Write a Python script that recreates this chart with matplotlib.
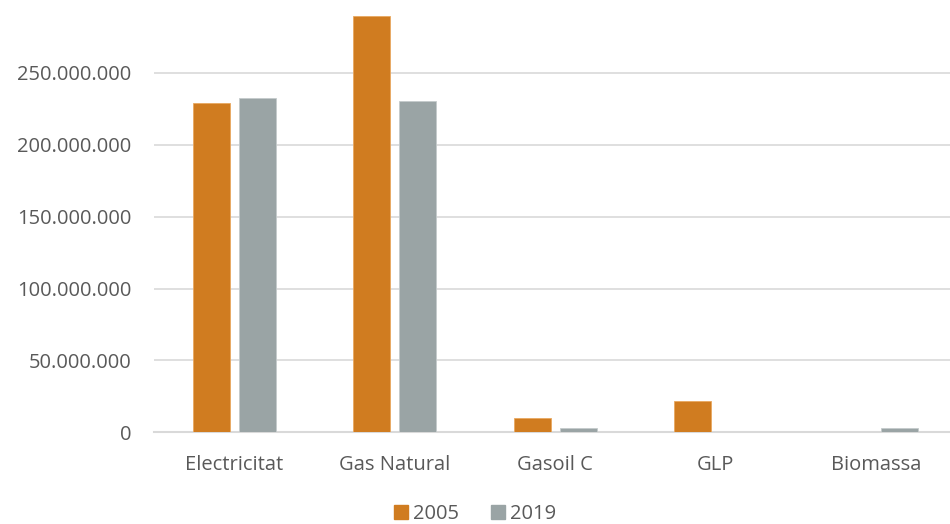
import numpy as np
import matplotlib.pyplot as plt
from matplotlib.ticker import FuncFormatter
from matplotlib.patches import Patch

categories = ["Electricitat", "Gas Natural", "Gasoil C", "GLP", "Biomassa"]
years = ["2005", "2019"]
vals_2005 = [228.9e6, 289.9e6, 10.2e6, 22.0e6, 0]
vals_2019 = [232.4e6, 230.7e6, 3.2e6, 0, 2.8e6]

orange = "#D07C20"
gray = "#9AA4A5"
text_col = "#595959"

plt.rcParams['font.family'] = ['Open Sans', 'DejaVu Sans']

fig = plt.figure(figsize=(9.5, 5.24), dpi=100)
ax = fig.add_axes([0.162, 0.175, 0.838, 0.823])

x = np.arange(len(categories))
w = 0.23
off = 0.143
ax.bar(x - off, vals_2005, w, color=orange, edgecolor="#E9A860", linewidth=0.6, zorder=3)
ax.bar(x + off, vals_2019, w, color=gray, edgecolor="#C4CBCC", linewidth=0.6, zorder=3)

ax.set_ylim(0, 300e6)
ax.set_xlim(-0.5, 4.46)
ax.set_yticks(np.arange(0, 300e6, 50e6))
ax.yaxis.set_major_formatter(FuncFormatter(lambda v, p: f"{int(v):,}".replace(",", ".")))
ax.grid(axis="y", color="#D9D9D9", linewidth=1.2, zorder=0)
ax.set_xticks(x)
ax.set_xticklabels(categories)
ax.tick_params(axis="both", length=0, labelsize=14.5, colors=text_col)
ax.tick_params(axis="y", pad=16)
ax.tick_params(axis="x", pad=16.5)
for s in ["top", "right", "left"]:
    ax.spines[s].set_visible(False)
ax.spines["bottom"].set_color("#D9D9D9")
ax.spines["bottom"].set_linewidth(1.5)

handles = [Patch(color=orange), Patch(color=gray)]
fig.legend(handles, years, loc="lower center", bbox_to_anchor=(0.5, -0.035), ncol=2,
           frameon=False, fontsize=14.5, labelcolor=text_col, handlelength=0.7,
           handleheight=0.7, handletextpad=0.25, columnspacing=1.6)

fig.savefig("out.png", dpi=100)
